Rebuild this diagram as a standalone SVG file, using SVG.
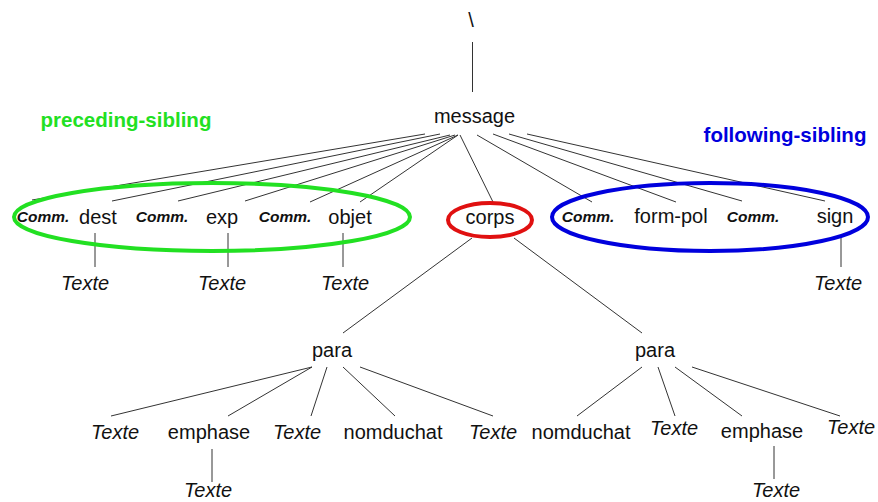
<svg xmlns="http://www.w3.org/2000/svg" width="878" height="502" viewBox="0 0 878 502">
<style>
.n{font-family:"Liberation Sans",Arial,sans-serif;font-size:20px;fill:#111;text-anchor:middle}
.t{font-family:"Liberation Sans",Arial,sans-serif;font-size:20px;font-style:italic;fill:#111;text-anchor:middle}
.c{font-family:"Liberation Sans",Arial,sans-serif;font-size:15.5px;font-style:italic;font-weight:bold;fill:#111;text-anchor:middle}
.lab{font-family:"Liberation Sans",Arial,sans-serif;font-size:20.5px;font-weight:bold;text-anchor:middle}
#edges line{stroke:#333;stroke-width:1}
.ell{fill:none;stroke-width:4}
</style>
<rect width="878" height="502" fill="#fff"/>
<g id="edges">
<line x1="472.5" y1="42" x2="472.5" y2="92"/>
<line x1="425" y1="134" x2="32" y2="200"/>
<line x1="440" y1="134" x2="112" y2="201"/>
<line x1="450" y1="135" x2="178" y2="201"/>
<line x1="455" y1="135" x2="245" y2="201"/>
<line x1="458" y1="135" x2="310" y2="202"/>
<line x1="458" y1="135" x2="360" y2="202"/>
<line x1="460" y1="135" x2="493" y2="202"/>
<line x1="477" y1="135" x2="592" y2="202"/>
<line x1="493" y1="134" x2="676" y2="202"/>
<line x1="509" y1="134" x2="742" y2="201"/>
<line x1="527" y1="134" x2="825" y2="201"/>
<line x1="95" y1="233" x2="95" y2="267"/>
<line x1="228" y1="233" x2="228" y2="267"/>
<line x1="343" y1="233" x2="343" y2="267"/>
<line x1="841" y1="237" x2="841" y2="267"/>
<line x1="472" y1="238" x2="343" y2="333"/>
<line x1="514" y1="238" x2="642" y2="333"/>
<line x1="312" y1="367" x2="111" y2="416"/>
<line x1="312" y1="367" x2="228" y2="416"/>
<line x1="327" y1="367" x2="311" y2="416"/>
<line x1="343" y1="367" x2="395" y2="416"/>
<line x1="360" y1="367" x2="493" y2="416"/>
<line x1="642" y1="367" x2="577" y2="416"/>
<line x1="658" y1="367" x2="675" y2="416"/>
<line x1="675" y1="367" x2="742" y2="416"/>
<line x1="692" y1="367" x2="840" y2="416"/>
<line x1="212" y1="449" x2="212" y2="482"/>
<line x1="774" y1="446" x2="774" y2="479"/>
</g>
<g id="labels">
<text class="lab" x="126" y="127" fill="#22e022">preceding-sibling</text>
<text class="lab" x="785" y="142" fill="#0000dd">following-sibling</text>
</g>
<g id="groups">
<ellipse class="ell" cx="212" cy="217" rx="198" ry="34" stroke="#22e022"/>
<ellipse class="ell" cx="710" cy="217" rx="158" ry="34" stroke="#0000dd"/>
<ellipse class="ell" cx="490" cy="220" rx="42" ry="17" stroke="#e01010" stroke-width="3.5"/>
</g>
<g id="root"><text class="n" x="471" y="27">\</text></g>
<g id="message"><text class="n" x="474.5" y="123">message</text></g>
<g id="comm1"><text class="c" x="43" y="222">Comm.</text></g>
<g id="dest"><text class="n" x="98" y="224">dest</text></g>
<g id="comm2"><text class="c" x="162" y="222">Comm.</text></g>
<g id="exp"><text class="n" x="222" y="224">exp</text></g>
<g id="comm3"><text class="c" x="285" y="222">Comm.</text></g>
<g id="objet"><text class="n" x="350" y="224">objet</text></g>
<g id="corps"><text class="n" x="490" y="224">corps</text></g>
<g id="comm4"><text class="c" x="588" y="222">Comm.</text></g>
<g id="form-pol"><text class="n" x="671" y="223">form-pol</text></g>
<g id="comm5"><text class="c" x="753" y="222">Comm.</text></g>
<g id="sign"><text class="n" x="835" y="223">sign</text></g>
<g id="texte-dest"><text class="t" x="85" y="290">Texte</text></g>
<g id="texte-exp"><text class="t" x="222" y="290">Texte</text></g>
<g id="texte-objet"><text class="t" x="345" y="290">Texte</text></g>
<g id="texte-sign"><text class="t" x="838" y="290">Texte</text></g>
<g id="para1"><text class="n" x="332" y="357">para</text></g>
<g id="para2"><text class="n" x="655" y="357">para</text></g>
<g id="p1-texte1"><text class="t" x="115" y="439">Texte</text></g>
<g id="p1-emphase"><text class="n" x="209" y="439">emphase</text></g>
<g id="p1-texte2"><text class="t" x="297" y="439">Texte</text></g>
<g id="p1-nomduchat"><text class="n" x="393" y="439">nomduchat</text></g>
<g id="p1-texte3"><text class="t" x="493" y="439">Texte</text></g>
<g id="p1-emphase-texte"><text class="t" x="208" y="497">Texte</text></g>
<g id="p2-nomduchat"><text class="n" x="581" y="439">nomduchat</text></g>
<g id="p2-texte1"><text class="t" x="674" y="435">Texte</text></g>
<g id="p2-emphase"><text class="n" x="762" y="438">emphase</text></g>
<g id="p2-texte2"><text class="t" x="851" y="434">Texte</text></g>
<g id="p2-emphase-texte"><text class="t" x="776" y="497">Texte</text></g>
</svg>
